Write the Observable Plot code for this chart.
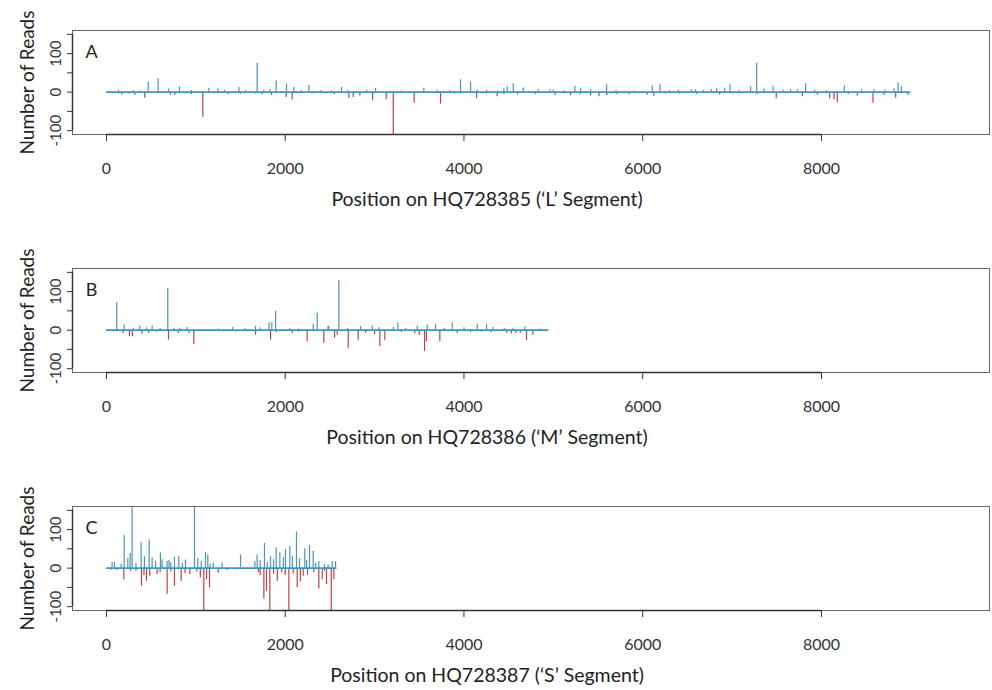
<!DOCTYPE html>
<html><head><meta charset="utf-8">
<script src="https://cdn.jsdelivr.net/npm/d3@7"></script>
<script src="https://cdn.jsdelivr.net/npm/@observablehq/plot@0.6"></script>
<style>body{margin:0;background:#fff;overflow:hidden}#chart svg{display:block}</style>
</head><body><div id="chart"></div>
<script>
const panelLetters = ["A", "B", "C"];
const xLabels = ["Position on HQ728385 (\u2018L\u2019 Segment)", "Position on HQ728386 (\u2018M\u2019 Segment)", "Position on HQ728387 (\u2018S\u2019 Segment)"];
const yLabel = "Number of Reads";
const segmentLengths = [9000, 4950, 2580];
const xTicks = [0, 2000, 4000, 6000, 8000];
const yTicks = [-100, -50, 0, 50, 100, 150];
const yTickLabels = [-100, 0, 100];
const xDomain = [-380, 9880];
const yDomain = [-110, 160];

// Panel A — L segment
const posL = [134,467,578,697,817,1145,1246,1481,1686,1899,2015,2097,2265,2630,2913,3011,3551,3842,3962,4074,4253,4447,4484,4551,4663,4831,4962,5241,5305,5596,6107,6193,6398,6543,6592,6768,6827,6917,6976,7208,7275,7357,7458,7569,7655,7823,7924,8256,8588,8711,8812,8857,8894,
  300,380,950,1320,1560,1760,1830,2180,2400,2520,2700,3300,3700,4150,4380,5000,5120,5420,5700,5900,6300,6680,7080,7730,8050,8450,
  171,317,429,716,764,948,1078,1362,1668,1847,2011,2078,2712,2761,2835,2977,3130,3209,3443,3738,4141,4372,4447,5193,5417,5510,5715,6125,6410,7282,7494,7786,7954,8092,8140,8177,8401,8576,8830,8968,
  250,560,880,1200,1500,1740,2300,2550,3600,3900,4600,4800,5020,5300,5600,5850,6050,6250,6600,6860,7000,7600,8300,8700];
const readsL = [5,26,35,8,14,10,8,12,75,29,21,12,18,12,5,10,10,4,32,26,5,9,14,22,11,6,6,15,9,19,16,20,5,6,6,6,9,9,19,14,75,8,14,5,7,22,5,16,6,5,9,24,14,
  4,3,4,5,4,5,6,4,4,3,4,3,5,4,3,5,4,6,4,3,4,5,4,6,4,5,
  -8,-9,-16,-8,-8,-6,-65,-6,-5,-9,-14,-20,-16,-14,-10,-22,-20,-110,-29,-31,-17,-12,-6,-9,-10,-12,-7,-10,-5,-6,-17,-12,-8,-17,-20,-27,-10,-29,-15,-8,
  -5,-4,-5,-4,-5,-7,-5,-6,-4,-5,-7,-6,-8,-7,-9,-6,-8,-5,-6,-7,-5,-4,-6,-9];

// Panel B — M segment
const posM = [115,198,373,511,686,753,903,1414,1668,1820,1850,1892,2314,2358,2477,2488,2600,2843,2974,3209,3260,3477,3589,3682,3869,4149,4253,4327,4682,
  300,450,600,820,1250,1550,1720,2050,2150,2700,3050,3350,3780,4000,4450,4550,4850,
  187,257,290,399,474,694,802,925,977,1668,1836,2078,2246,2432,2552,2582,2705,2817,3059,3115,3559,3580,3730,3924,4074,4480,4530,4580,4630,4700,4771,
  560,1300,1450,1900,2150,2900,3000,3300,3450,3500,4200,4300];
const readsM = [71,13,10,11,109,5,7,7,10,19,19,49,15,44,9,10,128,9,11,7,19,10,13,15,19,15,15,7,9,
  5,6,4,5,3,4,6,4,3,5,6,4,5,6,4,5,3,
  -9,-17,-17,-11,-9,-26,-9,-9,-38,-13,-26,-8,-30,-34,-21,-13,-47,-26,-43,-26,-55,-30,-30,-9,-6,-8,-10,-9,-8,-27,-13,
  -5,-4,-5,-6,-5,-8,-12,-6,-10,-14,-5,-6];

// Panel C — S segment
const posS = [63,90,164,198,239,265,287,388,425,478,511,604,623,679,761,809,884,985,1022,1108,1134,1194,1295,1500,1660,1686,1768,1836,1899,1940,2003,2052,2126,2219,2272,2313,2376,2526,2563,
  330,550,700,720,850,1060,1160,1720,1800,1870,1980,2080,2160,2240,2340,2440,2480,
  56,194,269,392,448,485,567,679,761,836,933,1089,1153,1250,1761,1828,1911,2041,2134,2201,2376,2414,2462,2515,2544,
  120,330,420,600,720,880,1010,1050,1120,1350,1450,1700,1720,1790,1870,1960,2000,2090,2170,2250,2320,2440];
const readsS = [15,15,10,85,25,38,165,66,30,73,26,40,22,17,28,30,21,165,25,40,34,13,13,34,17,34,64,30,53,40,48,56,94,50,59,44,17,17,17,
  12,18,20,14,12,18,10,20,15,22,28,30,25,20,12,10,8,
  -5,-30,-9,-47,-34,-21,-17,-68,-47,-34,-17,-110,-51,-13,-80,-110,-34,-110,-51,-21,-54,-30,-43,-110,-30,
  -6,-8,-20,-12,-10,-14,-10,-25,-30,-6,-4,-12,-20,-60,-15,-12,-20,-15,-35,-18,-12,-8];

const positions = [posL, posM, posS];
const reads = [readsL, readsM, readsS];

const blue = "#3a88b0", red = "#b3302f", baseBlue = "#3f95bf", axisColor = "#333";
const font = "Lato, 'Open Sans', sans-serif";

function panel(i) {
  const data = positions[i].map((p, k) => ({pos: p, v: reads[i][k]}));
  const pos = data.filter(d => d.v > 0), neg = data.filter(d => d.v < 0);
  return Plot.plot({
    width: 992, height: 238,
    marginTop: 30, marginBottom: 104, marginLeft: 72, marginRight: 3,
    style: {fontFamily: font, background: "#fff", color: axisColor},
    x: {domain: xDomain, axis: null},
    y: {domain: yDomain, axis: null},
    marks: [
      Plot.ruleX(pos, {x: "pos", y1: 0, y2: "v", stroke: blue, strokeWidth: 1.2, strokeOpacity: 0.9, clip: true}),
      Plot.ruleX(neg, {x: "pos", y1: 0, y2: "v", stroke: red, strokeWidth: 1.2, strokeOpacity: 0.9, clip: true}),
      Plot.ruleY([0], {x1: 0, x2: segmentLengths[i], stroke: baseBlue, strokeWidth: 1.6}),
      Plot.frame({stroke: "#666", strokeWidth: 1}),
      Plot.ruleY([yDomain[0]], {x1: xTicks[0], x2: xTicks[xTicks.length - 1], stroke: axisColor, strokeWidth: 1.5}),
      Plot.ruleX([xDomain[0]], {y1: yTicks[0], y2: yTicks[yTicks.length - 1], stroke: axisColor, strokeWidth: 1.5}),
      Plot.axisX({ticks: xTicks, tickSize: 7, tickPadding: 21, fontSize: 16, tickFormat: d => String(d), label: null, anchor: "bottom"}),
      Plot.axisY({ticks: yTicks, tickSize: 5, tickFormat: () => "", label: null, anchor: "left"}),
      Plot.text(yTickLabels, {y: d => d, text: d => String(d), frameAnchor: "left", dx: -16, rotate: -90, fontSize: 15, textAnchor: "middle", lineAnchor: "middle", fill: axisColor}),
      Plot.text([yLabel], {frameAnchor: "left", dx: -45, rotate: -90, fontSize: 19, textAnchor: "middle", lineAnchor: "middle", fill: "#222"}),
      Plot.text([panelLetters[i]], {frameAnchor: "top-left", dx: 19, dy: 22, fontSize: 18, textAnchor: "middle", lineAnchor: "middle", fill: "#222"}),
      Plot.text([xLabels[i]], {frameAnchor: "bottom", dx: -44, dy: 65, fontSize: 19.5, textAnchor: "middle", lineAnchor: "middle", fill: "#222"})
    ]
  });
}

const root = document.getElementById("chart");
for (let i = 0; i < 3; i++) root.appendChild(panel(i));
</script>
</body></html>
